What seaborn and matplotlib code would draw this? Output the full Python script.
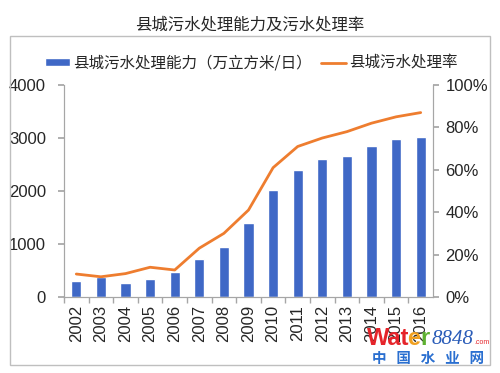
import matplotlib
matplotlib.use("Agg")
import matplotlib.pyplot as plt
import seaborn as sns
from matplotlib.patches import Rectangle

# data
years = ["2002", "2003", "2004", "2005", "2006", "2007", "2008", "2009",
         "2010", "2011", "2012", "2013", "2014", "2015", "2016"]
capacity = [300, 380, 265, 340, 470, 720, 945, 1400,
            2020, 2400, 2600, 2660, 2850, 2980, 3020]  # 万立方米/日
rate = [10.8, 9.5, 11.0, 14.0, 12.7, 23.0, 30.0, 41.0,
        61.0, 71.0, 75.0, 78.0, 82.0, 85.0, 87.0]  # %
rate_ticks = [0, 20, 40, 60, 80, 100]

bar_label = "县城污水处理能力（万立方米/日）"
line_label = "县城污水处理率"
title = "县城污水处理能力及污水处理率"

sns.set_theme(style="white")
plt.rcParams["font.family"] = ["Liberation Sans", "Noto Sans CJK SC", "DejaVu Sans"]

blue = "#3F68C6"
orange = "#EE7D2F"
grey = "#A6A6A6"

fig = plt.figure(figsize=(5, 3.73), dpi=100)
ax = fig.add_axes([0.128, 0.204, 0.738, 0.568])

pos = list(range(len(years)))
sns.barplot(x=pos, y=capacity, color=blue, width=0.42, ax=ax, native_scale=True,
            label=bar_label, saturation=1)
ax2 = ax.twinx()
sns.lineplot(x=pos, y=rate, color=orange, linewidth=2, ax=ax2, label=line_label)

ax.set_xlim(-0.5, len(years) - 0.5)
ax.set_ylim(0, 4000)
ax.set_yticks([0, 1000, 2000, 3000, 4000])
ax.set_xticks(pos)
ax.set_xticklabels(years, rotation=90, fontsize=12)
ax.tick_params(axis="y", labelsize=12, left=True, length=4, color=grey, pad=9)
ax.tick_params(axis="x", length=0, pad=6)
ax2.set_ylim(0, 100)
ax2.set_yticks(rate_ticks)
ax2.set_yticklabels([f"{v}%" for v in rate_ticks])
ax2.tick_params(axis="y", labelsize=12, length=4, color=grey, pad=5, right=True)

# ticks between categories on the x axis
ax.set_xticks([p + 0.5 for p in pos[:-1]] + [-0.5], minor=True)
ax.tick_params(axis="x", which="minor", length=4, color=grey, bottom=True, direction="out")

for a in (ax, ax2):
    a.spines["top"].set_visible(False)
    for s in ("left", "right", "bottom"):
        a.spines[s].set_color(grey)
        a.spines[s].set_linewidth(0.8)
ax.set_xlabel("")
ax.set_ylabel("")
ax2.set_ylabel("")

# legend
h1, l1 = ax.get_legend_handles_labels()
h2, l2 = ax2.get_legend_handles_labels()
if ax.get_legend():
    ax.get_legend().remove()
if ax2.get_legend():
    ax2.get_legend().remove()
fig.legend(h1 + h2, l1 + l2, loc="center", bbox_to_anchor=(0.502, 0.83), ncol=2,
           frameon=False, handlelength=1.6, handleheight=0.4, handletextpad=0.2,
           columnspacing=0.6, borderaxespad=0,
           prop={"family": ["Noto Sans CJK SC"], "size": 11.2})

fig.suptitle(title, y=0.955, fontsize=11.8, family=["Noto Sans CJK SC"])

# outer frame
fig.patches.append(Rectangle((0.02, 0.021), 0.96, 0.882, transform=fig.transFigure,
                             fill=False, edgecolor="#BFBFBF", linewidth=1))

# watermark
fig.text(0.733, 0.075, "Wat", color="#E5242A", fontsize=17, fontweight="bold")
fig.text(0.815, 0.075, "e", color="#F0A020", fontsize=17, fontweight="bold")
fig.text(0.840, 0.075, "r", color="#5DB030", fontsize=17, fontweight="bold")
fig.text(0.864, 0.078, "8848", color="#2A5CB8", fontsize=15, style="italic",
         family=["Liberation Serif"])
fig.text(0.948, 0.078, ".com", color="#E5242A", fontsize=5)
fig.text(0.745, 0.028, "中   国   水   业   网", color="#2A6FD0", fontsize=10.5,
         fontweight="bold", family=["Noto Sans CJK SC"])

fig.savefig("out.png", dpi=100)
